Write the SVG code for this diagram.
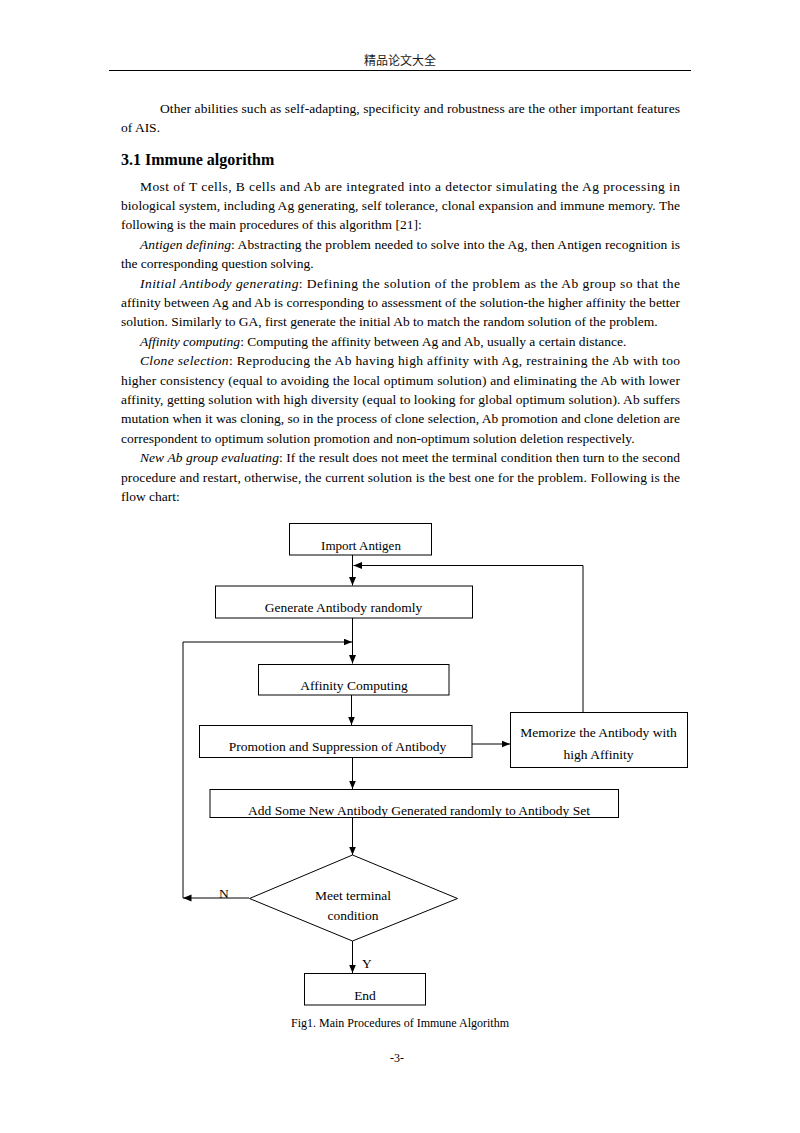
<svg xmlns="http://www.w3.org/2000/svg" width="800" height="1133" viewBox="0 0 800 1133">
<style>
.t{font-family:"Liberation Serif","Times New Roman",serif;font-size:13px;fill:#000}
.b{font-size:13.5px}
.i{font-style:italic}
.h{font-family:"Liberation Serif","Times New Roman",serif;font-size:16px;font-weight:bold;fill:#000}
.hd{font-family:"Liberation Serif","Noto Sans CJK SC",sans-serif;font-size:12px;fill:#222}
.box{fill:#fff;stroke:#000;stroke-width:1}
.c{text-anchor:middle}
.ln{fill:none;stroke:#000;stroke-width:1}
</style>
<defs>
<marker id="ah" markerWidth="10" markerHeight="8" refX="8.5" refY="3.5" orient="auto" markerUnits="userSpaceOnUse">
<path d="M0,0 L8.5,3.5 L0,7 z" fill="#000"/>
</marker>
</defs>
<rect width="800" height="1133" fill="#fff"/>
<g id="page-header">
<text class="hd c" x="400" y="65">精品论文大全</text>
<line x1="109" y1="70.5" x2="691" y2="70.5" stroke="#000" stroke-width="1"/>
</g>
<g id="body-text">
<text class="t b" x="160" y="113" textLength="520" lengthAdjust="spacing">Other abilities such as self-adapting, specificity and robustness are the other important features</text>
<text class="t b" x="121" y="132">of AIS.</text>
<text class="h" x="121" y="165">3.1 Immune algorithm</text>
<text class="t b" x="140" y="190.5" textLength="540" lengthAdjust="spacing">Most of T cells, B cells and Ab are integrated into a detector simulating the Ag processing in</text>
<text class="t b" x="121" y="209.9" textLength="559" lengthAdjust="spacing">biological system, including Ag generating, self tolerance, clonal expansion and immune memory. The</text>
<text class="t b" x="121" y="229.3">following is the main procedures of this algorithm [21]:</text>
<text class="t b" x="140" y="248.7" textLength="540" lengthAdjust="spacing"><tspan class="i">Antigen defining</tspan>: Abstracting the problem needed to solve into the Ag, then Antigen recognition is</text>
<text class="t b" x="121" y="268.1">the corresponding question solving.</text>
<text class="t b" x="140" y="287.5" textLength="540" lengthAdjust="spacing"><tspan class="i">Initial Antibody generating</tspan>: Defining the solution of the problem as the Ab group so that the</text>
<text class="t b" x="121" y="306.9" textLength="559" lengthAdjust="spacing">affinity between Ag and Ab is corresponding to assessment of the solution-the higher affinity the better</text>
<text class="t b" x="121" y="326.3">solution. Similarly to GA, first generate the initial Ab to match the random solution of the problem.</text>
<text class="t b" x="140" y="345.7"><tspan class="i">Affinity computing</tspan>: Computing the affinity between Ag and Ab, usually a certain distance.</text>
<text class="t b" x="140" y="365.1" textLength="540" lengthAdjust="spacing"><tspan class="i">Clone selection</tspan>: Reproducing the Ab having high affinity with Ag, restraining the Ab with too</text>
<text class="t b" x="121" y="384.5" textLength="559" lengthAdjust="spacing">higher consistency (equal to avoiding the local optimum solution) and eliminating the Ab with lower</text>
<text class="t b" x="121" y="403.9" textLength="559" lengthAdjust="spacing">affinity, getting solution with high diversity (equal to looking for global optimum solution). Ab suffers</text>
<text class="t b" x="121" y="423.3" textLength="559" lengthAdjust="spacing">mutation when it was cloning, so in the process of clone selection, Ab promotion and clone deletion are</text>
<text class="t b" x="121" y="442.7">correspondent to optimum solution promotion and non-optimum solution deletion respectively.</text>
<text class="t b" x="140" y="462.1" textLength="540" lengthAdjust="spacing"><tspan class="i">New Ab group evaluating</tspan>: If the result does not meet the terminal condition then turn to the second</text>
<text class="t b" x="121" y="481.5" textLength="559" lengthAdjust="spacing">procedure and restart, otherwise, the current solution is the best one for the problem. Following is the</text>
<text class="t b" x="121" y="500.9">flow chart:</text>
</g>
<g id="connectors">
<line class="ln" x1="352.5" y1="555" x2="352.5" y2="585.5" marker-end="url(#ah)"/>
<polyline class="ln" points="583,712 583,565.5 353.5,565.5" marker-end="url(#ah)"/>
<line class="ln" x1="352.5" y1="618" x2="352.5" y2="663.5" marker-end="url(#ah)"/>
<polyline class="ln" points="183,898 183,642 352,642" marker-end="url(#ah)"/>
<line class="ln" x1="351.5" y1="695" x2="351.5" y2="725" marker-end="url(#ah)"/>
<line class="ln" x1="472" y1="744" x2="510" y2="744" marker-end="url(#ah)"/>
<line class="ln" x1="352.5" y1="757.5" x2="352.5" y2="789" marker-end="url(#ah)"/>
<line class="ln" x1="352.5" y1="817.5" x2="352.5" y2="855" marker-end="url(#ah)"/>
<line class="ln" x1="249" y1="898" x2="183" y2="898" marker-end="url(#ah)"/>
<line class="ln" x1="352.5" y1="941" x2="352.5" y2="973" marker-end="url(#ah)"/>
<text class="t b" x="219" y="898">N</text>
<text class="t b" x="362" y="968">Y</text>
</g>
<g id="import-antigen">
<rect class="box" x="289.5" y="523.5" width="142" height="31.5"/>
<text class="t c" x="361" y="549.5">Import Antigen</text>
</g>
<g id="generate-antibody">
<rect class="box" x="215.5" y="586" width="257" height="32"/>
<text class="t b c" x="343.5" y="611.5">Generate Antibody randomly</text>
</g>
<g id="affinity-computing">
<rect class="box" x="258.5" y="664.5" width="190.5" height="30.5"/>
<text class="t b c" x="354" y="690">Affinity Computing</text>
</g>
<g id="promotion-suppression">
<rect class="box" x="199.5" y="725.5" width="272.5" height="32"/>
<text class="t b c" x="337.5" y="751">Promotion and Suppression of Antibody</text>
</g>
<g id="memorize-antibody">
<rect class="box" x="510.5" y="712.5" width="177" height="55"/>
<text class="t b c" x="598.5" y="737">Memorize the Antibody with</text>
<text class="t b c" x="598.5" y="758.5">high Affinity</text>
</g>
<g id="add-new-antibody">
<rect class="box" x="210" y="789.5" width="408.5" height="28"/>
<text class="t b c" x="419" y="814.5">Add Some New Antibody Generated randomly to Antibody Set</text>
</g>
<g id="meet-terminal">
<polygon class="box" points="352.5,855 457.5,898.5 352.5,941 249.5,898.5"/>
<text class="t b c" x="353" y="900">Meet terminal</text>
<text class="t b c" x="353" y="920">condition</text>
</g>
<g id="end">
<rect class="box" x="304.5" y="973.5" width="121" height="31.5"/>
<text class="t b c" x="365" y="1000">End</text>
</g>
<g id="caption">
<text class="t c" x="400" y="1026.5" style="font-size:12px">Fig1. Main Procedures of Immune Algorithm</text>
<text class="t c" x="397" y="1062" style="font-size:12px">-3-</text>
</g>
</svg>
